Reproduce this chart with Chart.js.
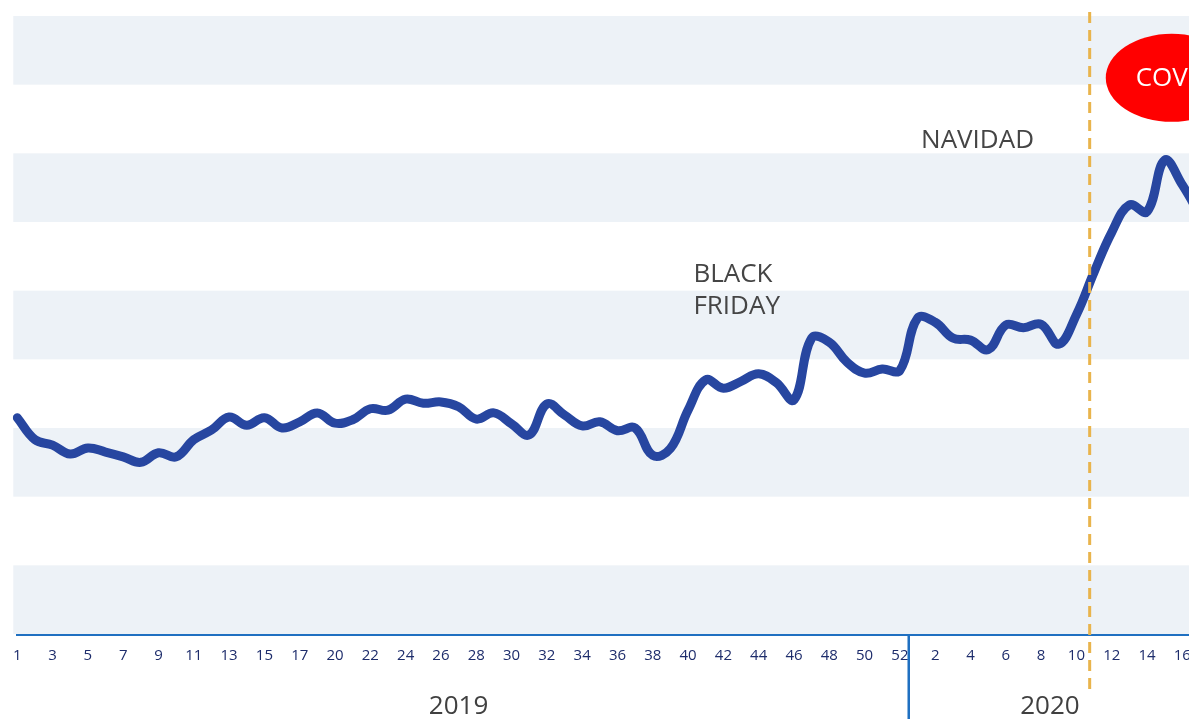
<!DOCTYPE html>
<html>
<head>
<meta charset="utf-8">
<script src="https://cdn.jsdelivr.net/npm/chart.js@4"></script>
<style>
  html, body { margin: 0; padding: 0; background: #fff; overflow: hidden; }
  #wrap { position: relative; width: 1260px; height: 719px; }
</style>
</head>
<body>
<div id="wrap"><canvas id="salesChart"></canvas></div>
<script>
// week numbers on the axis (week 18 of 2019 is missing in the source)
const weeks2019 = [1, 2, 3, 4, 5, 6, 7, 8, 9, 10, 11, 12, 13, 14, 15, 16, 17,
    19, 20, 21, 22, 23, 24, 25, 26, 27, 28, 29, 30, 31, 32, 33, 34, 35, 36,
    37, 38, 39, 40, 41, 42, 43, 44, 45, 46, 47, 48, 49, 50, 51, 52];
const weeks2020 = [1, 2, 3, 4, 5, 6, 7, 8, 9, 10, 11, 12, 13, 14, 15, 16, 17];
const years = ["2019", "2020"];

// weekly index (no scale printed on the original)
const sales2019 = [31.5, 28.3, 27.5, 26.2, 27.1, 26.5, 25.8, 25.0, 26.4, 25.8,
    28.3, 29.7, 31.6, 30.4, 31.5, 30.0, 30.9, 32.2, 30.7, 31.2,
    32.8, 32.6, 34.2, 33.6, 33.8, 33.1, 31.3, 32.2, 30.6, 29.0,
    33.5, 31.9, 30.3, 30.9, 29.6, 30.0, 26.0, 27.0, 32.6, 37.0,
    35.8, 36.8, 37.9, 36.6, 34.1, 43.1, 42.5, 39.6, 38.0, 38.6, 38.4];
const sales2020 = [46.0, 45.4, 43.1, 42.8, 41.4, 45.0, 44.6, 45.1, 42.2, 46.5,
    52.7, 58.5, 62.5, 61.5, 69.0, 65.4, 61.0];

// notes: [label lines, category index, value]
const notes = [
    [["BLACK", "FRIDAY"], 38.3, 52.3],
    [["NAVIDAD"], 51.2, 71.8]
];
const covidWeek = 11;   // 2020 week of the dashed line

const labels = weeks2019.concat(weeks2020);
const values = sales2019.concat(sales2020);
const covidIdx = weeks2019.length + weeks2020.indexOf(covidWeek);

const FONT = "'Open Sans', sans-serif";
const AXIS_BLUE = '#1f70c1';

const bands = {
    id: 'bands',
    beforeDatasetsDraw(chart) {
        const {ctx, chartArea, scales: {y}} = chart;
        const ticks = y.ticks;
        ctx.save();
        ctx.fillStyle = '#edf2f7';
        for (let k = 0; k < ticks.length - 1; k++) {
            if (k % 2) continue;
            const top = y.getPixelForValue(ticks[k + 1].value);
            const bot = y.getPixelForValue(ticks[k].value);
            ctx.fillRect(chartArea.left - 4, top, chartArea.right - chartArea.left + 4, bot - top);
        }
        ctx.restore();
    }
};

const extras = {
    id: 'extras',
    afterDraw(chart) {
        const {ctx, chartArea, scales: {x, y}} = chart;
        const H = chart.height;
        ctx.save();

        // year divider
        const split = (x.getPixelForValue(weeks2019.length - 1) + x.getPixelForValue(weeks2019.length)) / 2;
        ctx.strokeStyle = AXIS_BLUE;
        ctx.lineWidth = 2.5;
        ctx.beginPath();
        ctx.moveTo(split, chartArea.bottom);
        ctx.lineTo(split, H);
        ctx.stroke();

        // year labels
        ctx.fillStyle = '#404040';
        ctx.font = '26px ' + FONT;
        ctx.textAlign = 'center';
        ctx.textBaseline = 'middle';
        ctx.fillText(years[0], x.getPixelForValue((weeks2019.length - 1) / 2), 707);
        ctx.fillText(years[1], x.getPixelForValue(weeks2019.length + (weeks2020.length - 2) / 2), 707);

        // covid dashed line
        const cx = x.getPixelForValue(covidIdx - 0.25);
        ctx.strokeStyle = '#e9b44c';
        ctx.lineWidth = 3;
        ctx.setLineDash([11, 7]);
        ctx.beginPath();
        ctx.moveTo(cx, 12);
        ctx.lineTo(cx, 690);
        ctx.stroke();
        ctx.setLineDash([]);

        // notes
        ctx.fillStyle = '#454545';
        ctx.font = '26px ' + FONT;
        ctx.textAlign = 'left';
        notes.forEach(([lines, idx, val]) => {
            const px = x.getPixelForValue(idx);
            const py = y.getPixelForValue(val);
            lines.forEach((t, i) => ctx.fillText(t, px, py + i * 32));
        });

        // covid bubble
        const ex = x.getPixelForValue(covidIdx + 4.4);
        const ey = y.getPixelForValue(81.0);
        ctx.fillStyle = '#ff0000';
        ctx.beginPath();
        ctx.ellipse(ex, ey, 66, 44, 0, 0, Math.PI * 2);
        ctx.fill();
        ctx.fillStyle = '#ffffff';
        ctx.textAlign = 'center';
        ctx.fillText('COVID', ex + 3, ey + 1);

        ctx.restore();
    }
};

new Chart(document.getElementById('salesChart'), {
    type: 'line',
    data: {
        labels: labels,
        datasets: [{
            data: values,
            borderColor: '#2746a0',
            borderWidth: 9,
            borderCapStyle: 'round',
            borderJoinStyle: 'round',
            pointRadius: 0,
            tension: 0.4,
            fill: false
        }]
    },
    options: {
        responsive: true,
        maintainAspectRatio: false,
        animation: false,
        layout: { padding: { left: 11, right: 60, top: 16, bottom: 0 } },
        plugins: { legend: { display: false }, tooltip: { enabled: false } },
        scales: {
            x: {
                type: 'category',
                offset: false,
                grid: { drawOnChartArea: false, drawTicks: false },
                border: { display: true, color: AXIS_BLUE, width: 3 },
                ticks: {
                    autoSkip: false,
                    maxRotation: 0,
                    padding: 13,
                    color: '#1d2c6b',
                    font: { family: FONT, size: 15 },
                    callback: (v, i) => i % 2 ? '' : labels[i]
                },
                afterFit: s => { s.height = 85; }
            },
            y: {
                display: false,
                min: 0,
                max: 90,
                ticks: { stepSize: 10 }
            }
        }
    },
    plugins: [bands, extras]
});
</script>
</body>
</html>
